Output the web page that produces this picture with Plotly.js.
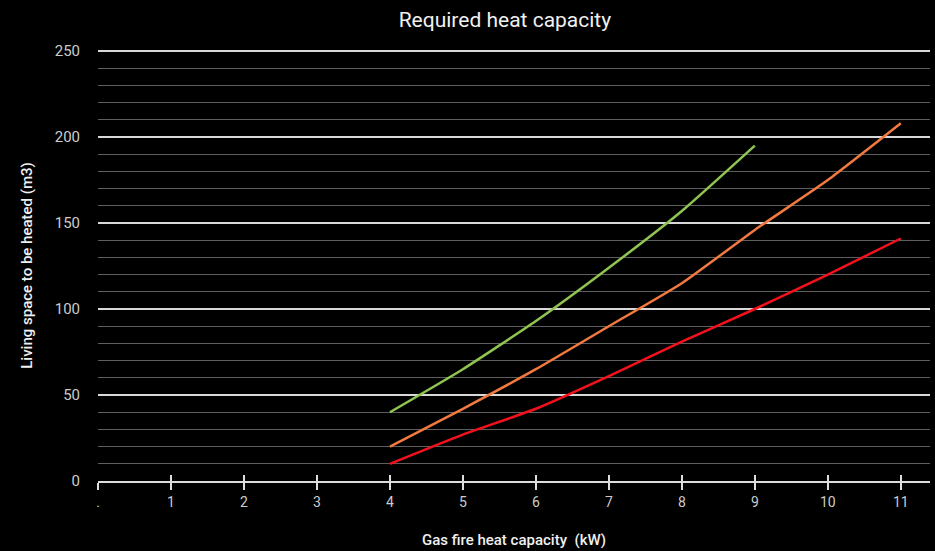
<!DOCTYPE html>
<html>
<head>
<meta charset="utf-8">
<script src="https://cdn.plot.ly/plotly-3.0.1.min.js"></script>
<style>html,body{margin:0;padding:0;background:#000;}#chart{width:935px;height:551px;}</style>
</head>
<body>
<div id="chart"></div>
<script>
const xValues = [4, 5, 6, 7, 8, 9, 10, 11];
const greenValues = [40, 65, 93, 124, 157, 195];
const orangeValues = [20, 42, 65, 90, 115, 146, 175, 208];
const redValues = [10, 27, 42, 61, 81, 100, 120, 141];
const xTickVals = [0, 1, 2, 3, 4, 5, 6, 7, 8, 9, 10, 11];
const xTickText = [".", "1", "2", "3", "4", "5", "6", "7", "8", "9", "10", "11"];

const font = "Roboto, 'Noto Sans', sans-serif";
const traces = [
  {x: xValues.slice(0, greenValues.length), y: greenValues, mode: "lines", line: {color: "#8fc550", width: 2.5, shape: "spline", smoothing: 0.5}},
  {x: xValues, y: orangeValues, mode: "lines", line: {color: "#f27a3e", width: 2.5, shape: "spline", smoothing: 0.5}},
  {x: xValues, y: redValues, mode: "lines", line: {color: "#f4111c", width: 2.5, shape: "spline", smoothing: 0.5}},
  {x: [0], y: [0], xaxis: "x2", mode: "markers", marker: {opacity: 0}, hoverinfo: "skip"}
];
const layout = {
  width: 935, height: 551,
  paper_bgcolor: "#000", plot_bgcolor: "#000",
  showlegend: false,
  margin: {l: 98, r: 5, t: 50, b: 70},
  title: {text: "Required heat capacity", font: {family: font, size: 21, color: "#f0f0f0"}, x: 0.54, xanchor: "center", y: 0.965, yanchor: "middle"},
  xaxis: {
    range: [0, 11.4], tickvals: xTickVals, ticktext: xTickText,
    showgrid: false, zeroline: false,
    showline: true, linecolor: "#dddddd", linewidth: 2,
    ticks: "outside", ticklen: 7, tickwidth: 1.5, tickcolor: "#dddddd",
    tickfont: {family: font, size: 14, color: "#cccccc"},
    title: {text: "Gas fire heat capacity  (kW)", font: {family: font, size: 15, color: "#f0f0f0", weight: 500}, standoff: 26}
  },
  xaxis2: {
    range: [0, 11.4], overlaying: "x", tickvals: xTickVals, showticklabels: false,
    showgrid: false, zeroline: false, showline: false,
    ticks: "inside", ticklen: 6, tickwidth: 1.5, tickcolor: "#dddddd"
  },
  yaxis: {
    range: [0, 250.6], tickvals: [0, 50, 100, 150, 200, 250],
    showgrid: true, gridcolor: "#d8d8d8", gridwidth: 2,
    zeroline: false, showline: false, ticks: "",
    ticklabelstandoff: 17,
    tickfont: {family: font, size: 15, color: "#cccccc"},
    minor: {dtick: 10, showgrid: true, gridcolor: "#5e5e5e", gridwidth: 1},
    title: {text: "Living space to be heated (m3)", font: {family: font, size: 15, color: "#f0f0f0", weight: 500}, standoff: 18}
  }
};
Plotly.newPlot("chart", traces, layout, {displayModeBar: false, staticPlot: true});
</script>
</body>
</html>
